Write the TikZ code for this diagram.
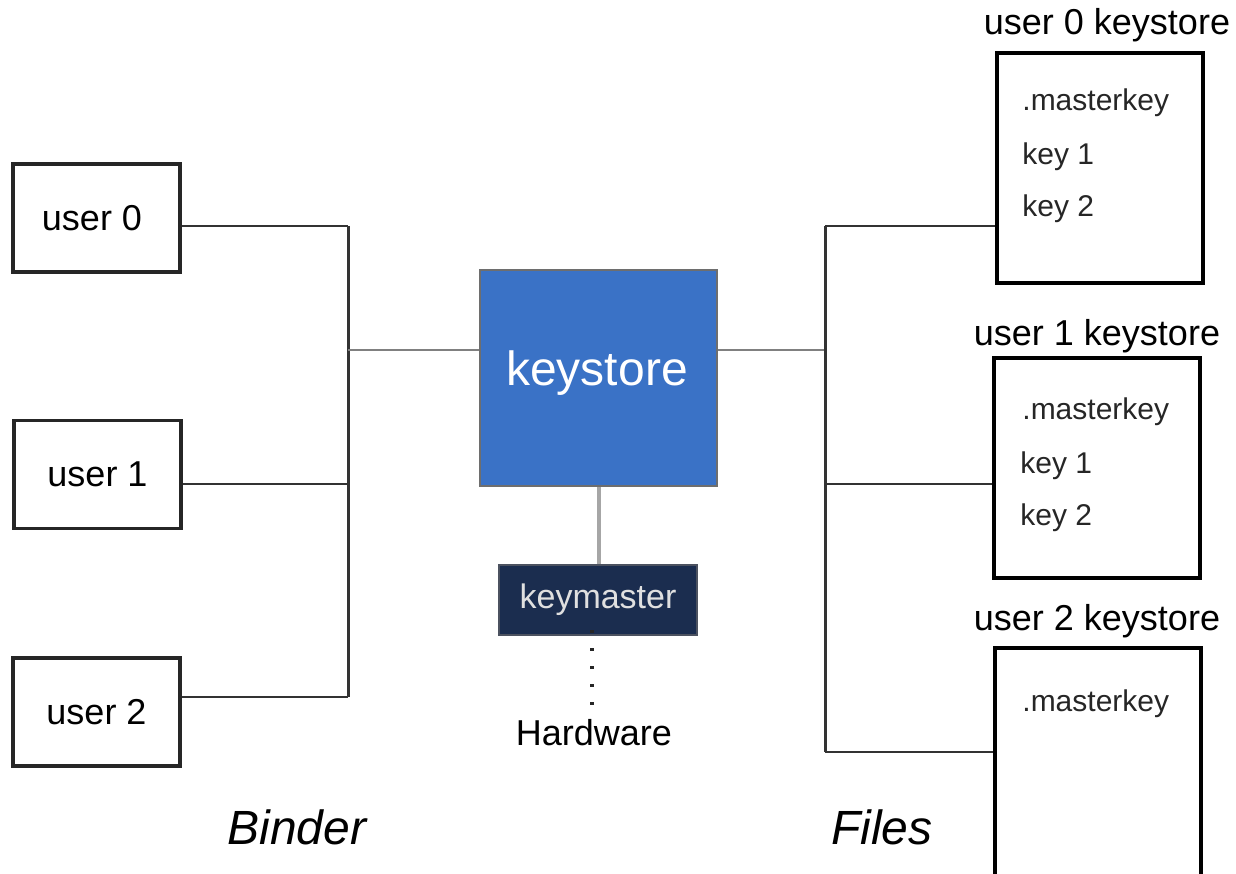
\documentclass[tikz,border=0pt]{standalone}
\usepackage{fontspec}
\setmainfont{Liberation Sans}
\definecolor{ksblue}{HTML}{3A72C6}
\definecolor{ksborder}{HTML}{6E6E6E}
\definecolor{kmfill}{HTML}{1B2D4F}
\definecolor{kmborder}{HTML}{4C5260}
\begin{document}
\begin{tikzpicture}[x=0.5pt,y=-0.5pt,
  ubox/.style={draw=black!85, line width=1.6pt, minimum width=83.5pt, minimum height=54pt, inner sep=0pt, font=\fontsize{18}{20}\selectfont},
  kbox/.style={draw=black, line width=2pt, minimum width=103pt, inner sep=0pt},
  title/.style={font=\fontsize{18}{20}\selectfont, inner sep=0pt},
  entry/.style={anchor=west, inner sep=0pt, font=\fontsize{15}{17}\selectfont, text=black!85},
  side/.style={font=\fontsize{24}{26}\selectfont\itshape, inner sep=0pt},
  wire/.style={draw=black!80, line width=1.2pt},
  gwire/.style={draw=black!50, line width=1.2pt}
]
\useasboundingbox (0,0) rectangle (1236,873);

% user boxes
\node[ubox] (u0) at (96.5,218) {\hspace*{-4.5pt}user 0};
\node[ubox] (u1) at (97.5,474.5) {user 1};
\node[ubox] (u2) at (96.5,712) {user 2};

% left bus
\coordinate (bl0) at (348,226);
\coordinate (bl1) at (348,484);
\coordinate (bl2) at (348,697);
\coordinate (blm) at (348,350);
\draw[wire] (u0.east |- bl0) -- (bl0);
\draw[wire] (u1.east |- bl1) -- (bl1);
\draw[wire] (u2.east |- bl2) -- (bl2);
\draw[wire, line width=1.5pt] (bl0) -- (bl2);

% keystore
\node[fill=ksblue, draw=ksborder, line width=1.2pt, minimum width=118.5pt, minimum height=108pt, inner sep=0pt] (ks) at (598.5,378) {};
\node[text=white, font=\fontsize{24}{26}\selectfont, inner sep=0pt] (kstext) at (597,373) {keystore};
\draw[gwire] (blm) -- (ks.west |- blm);

% keymaster
\node[fill=kmfill, draw=kmborder, line width=1.2pt, minimum width=99pt, minimum height=35pt, inner sep=0pt, text=white!88!black, font=\fontsize{17}{19}\selectfont] (km) at (598,600) {keymaster};
\draw[draw=black!35, line width=1.6pt] (ks.south -| 599,0) -- (km.north -| 599,0);

% hardware
\node[font=\fontsize{18}{20}\selectfont, inner sep=0pt] (hw) at (594,733) {Hardware};
\draw[line width=1.6pt, dash pattern=on 1.6pt off 7.4pt, draw=black!85] ([xshift=-3pt,yshift=3pt]km.south) -- ([xshift=-1pt,yshift=3pt]hw.north);

% right bus
\coordinate (br0) at (825,226);
\coordinate (br1) at (825,484);
\coordinate (br2) at (825,752);
\coordinate (brm) at (825,350);
\draw[gwire] (ks.east |- brm) -- (brm);
\draw[wire, line width=1.5pt] (br0) -- (br2);

% keystore files
\node[kbox, minimum height=115pt] (f0) at (1100,168) {};
\node[kbox, minimum height=110pt] (f1) at (1096.5,468) {};
\node[kbox, minimum height=126pt] (f2) at (1097.5,774) {};
\draw[wire] (br0) -- (f0.west |- br0);
\draw[wire] (br1) -- (f1.west |- br1);
\draw[wire] (br2) -- (f2.west |- br2);

\node[title] (t0) at (1107,25) {user 0 keystore};
\node[title] (t1) at (1097,336) {user 1 keystore};
\node[title] (t2) at (1097,621) {user 2 keystore};

\node[entry] (m0) at (1022,103) {.masterkey};
\node[entry] (a0) at (1022,157) {key 1};
\node[entry] (b0) at (1022,209) {key 2};
\node[entry] (m1) at (1022,412) {.masterkey};
\node[entry] (a1) at (1020,466) {key 1};
\node[entry] (b1) at (1020,518) {key 2};
\node[entry] (m2) at (1022,704) {.masterkey};

% side labels
\node[side] (binder) at (297,827) {Binder};
\node[side] (files) at (882,827) {Files};
\end{tikzpicture}
\end{document}
